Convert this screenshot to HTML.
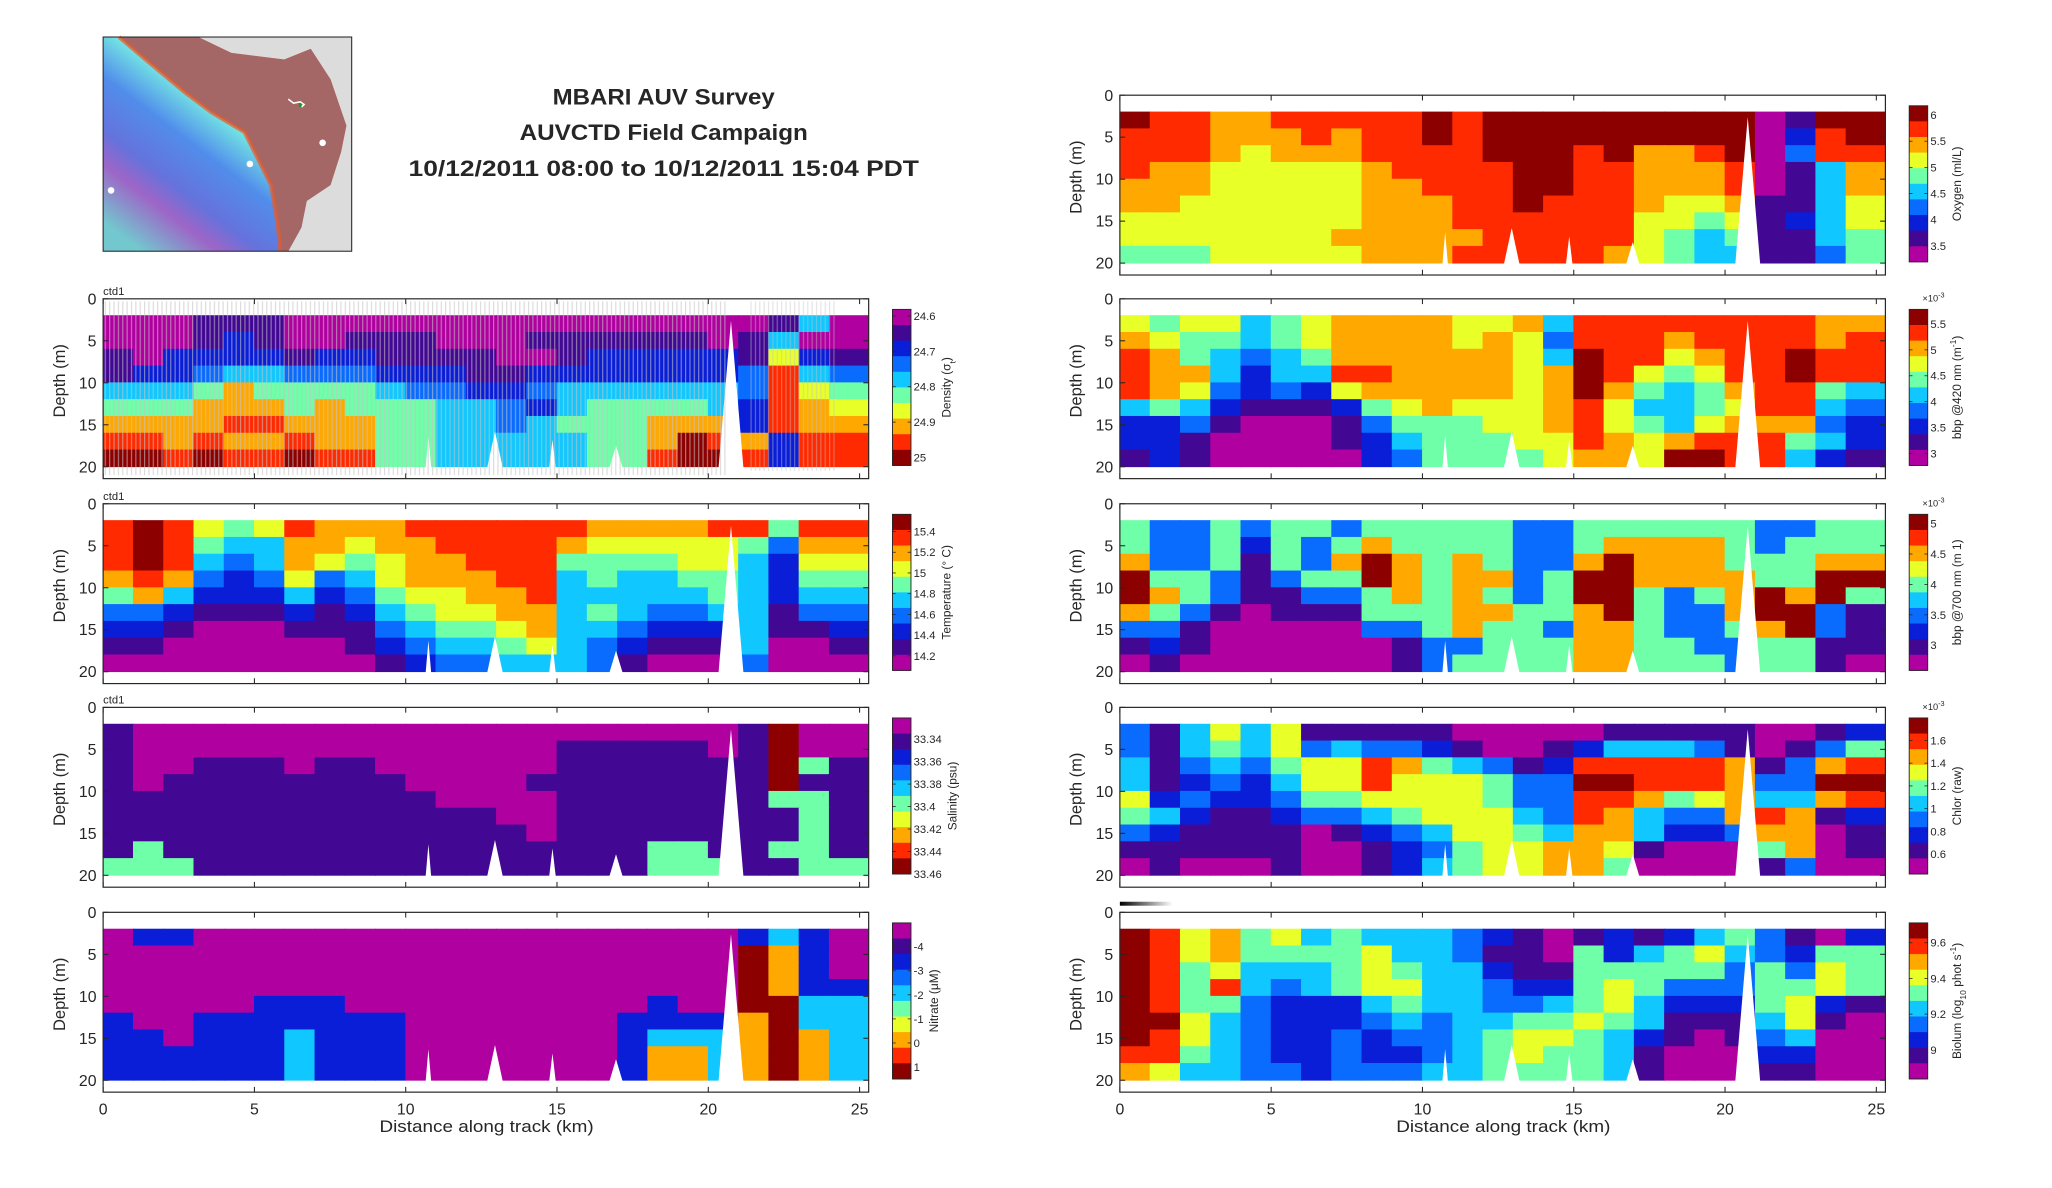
<!DOCTYPE html>
<html>
<head>
<meta charset="utf-8">
<style>
  html,body{margin:0;padding:0;background:#fff;}
  svg{display:block;}
  text{font-family:"Liberation Sans",sans-serif;fill:#262626;}
</style>
</head>
<body>
<svg id="fig" xmlns="http://www.w3.org/2000/svg" width="2052" height="1188" viewBox="0 0 1552 898.5" preserveAspectRatio="none">
  <defs>
    <pattern id="trackLines" width="3.3" height="10" patternUnits="userSpaceOnUse">
      <rect x="0" y="0" width="0.9" height="10" fill="#c4c4c4"/>
    </pattern>
    <linearGradient id="mapRainbow" x1="0.85" y1="0.1" x2="0.1" y2="0.95">
      <stop offset="0" stop-color="#d83030"/>
      <stop offset="0.12" stop-color="#ff7a30"/>
      <stop offset="0.25" stop-color="#f4ec50"/>
      <stop offset="0.4" stop-color="#60e0e0"/>
      <stop offset="0.55" stop-color="#3a7ee8"/>
      <stop offset="0.72" stop-color="#5060d8"/>
      <stop offset="0.82" stop-color="#9050c0"/>
      <stop offset="1" stop-color="#60c0c8"/>
    </linearGradient>
    <linearGradient id="bioBar" x1="0" y1="0" x2="1" y2="0">
      <stop offset="0" stop-color="#000"/>
      <stop offset="1" stop-color="#fff"/>
    </linearGradient>
  </defs>

  <!-- map inset -->
  <g>
    <rect x="78" y="28" width="188" height="162" fill="url(#mapRainbow)"/>
    <rect x="78" y="28" width="188" height="162" fill="#ffffff" opacity="0.12"/>
    <polygon fill="#dcdcdc" points="150,28 266,28 266,190 218,190 228,172 232,152 250,140 258,115 262,95 250,60 235,37 215,45 175,40"/>
    <polygon fill="#a56666" points="90,28 150,28 175,40 215,45 235,37 250,60 262,95 258,115 250,140 232,152 228,172 218,190 212,190 210,170 205,140 195,120 185,100 160,85 140,70 110,45"/>
    <polyline fill="none" stroke="#e85a2a" stroke-width="3" opacity="0.7" points="90,28 110,45 140,70 160,85 185,100 195,120 205,140 210,170 212,190"/>
    <circle cx="244" cy="108" r="2.5" fill="#fff"/>
    <circle cx="189" cy="124" r="2.5" fill="#fff"/>
    <circle cx="84" cy="144" r="2.5" fill="#fff"/>
    <path d="M218,75 l4,3 l5,-1 l3,2 l-2,2" stroke="#fff" stroke-width="1.2" fill="none"/>
    <rect x="226" y="78" width="2" height="3" fill="#1a9a1a"/>
    <rect x="78" y="28" width="188" height="162" fill="none" stroke="#262626" stroke-width="0.8"/>
  </g>

  <!-- title -->
  <g>
    <text x="502" y="79" text-anchor="middle" font-weight="bold" font-size="16.5" textLength="168" lengthAdjust="spacingAndGlyphs">MBARI AUV Survey</text>
    <text x="502" y="106" text-anchor="middle" font-weight="bold" font-size="16.5" textLength="218" lengthAdjust="spacingAndGlyphs">AUVCTD Field Campaign</text>
    <text x="502" y="133" text-anchor="middle" font-weight="bold" font-size="16.5" textLength="386" lengthAdjust="spacingAndGlyphs">10/12/2011 08:00 to 10/12/2011 15:04 PDT</text>
  </g>

  <g id="panels"></g>
</svg>

<script>
// ---------- shared data (categories) ----------
const distanceKm = [0,1,2,3,4,5,6,7,8,9,10,11,12,13,14,15,16,17,18,19,20,21,22,23,24];
const depthRowsM = [2,4,6,8,10,12,14,16,18];
const depthTicks = [0,5,10,15,20];
const distTicks = [0,5,10,15,20,25];
const palette = ['#b000a0','#420894','#0a1ed8','#0a6cff','#10c8ff','#6effa8','#e8ff28','#ffa800','#ff2a00','#8c0000'];

// no-data spikes (bathymetry gaps): km and the shallowest depth reached
const gapKm = [10.75, 12.95, 14.85, 16.95, 20.75];
const gapTopDepth = [16.3, 15.8, 16.8, 17.5, 2.6];
const gapHalfWidthKm = [0.1, 0.28, 0.12, 0.25, 0.42];

// ---------- panel values (colour level 0..9 per km column, per 2 m depth row) ----------
const densityLevels = [
"0001110000000000000000140",
"0001210011100011111101400",
"1022221221111001222221621",
"1223443332221122222223843",
"4445755554332234444443865",
"5557775755544324555542876",
"7777887775544345557772877",
"8878778775544444557987288",
"9989889885544444558998288"];
const temperatureLevels = [
"8986568777888888777788588",
"8985447767788887666665377",
"8984347656778885555664266",
"7873236346777884544554255",
"5742224235667784444454244",
"3321112124566774543344133",
"2210001113455674432224112",
"1100000012344564321114001",
"0000000001233444310003000"];
const salinityLevels = [
"1000000000000000000001900",
"1000000000000001111101900",
"1001110110000001111111951",
"1011111111000011111111911",
"1111111111100001111111551",
"1111111111111001111111151",
"1111111111111101111111151",
"1511111111111111115511551",
"5551111111111111115551155"];
const nitrateLevels = [
"0220000000000000000002420",
"0000000000000000000009720",
"0000000000000000000009720",
"0000000000000000000009722",
"0000022200000000002009944",
"2002222222000000022227944",
"2202224222000000024447974",
"2222224222000000027747974",
"2222224222000000027747974"];
const oxygenLevels = [
"9887788888989999999990199",
"8887778788989999999990289",
"8887677788889998977890388",
"8776666678888998877780147",
"7776666677888998877780147",
"7766666677788988876671146",
"6666666677788888866561246",
"6666666777778888865451145",
"5556666677788888765441135"];
const bbp420Levels = [
"6566456777766748888888877",
"7655456777767638887888878",
"8754345777777649886788988",
"8774244887777679865688988",
"8763232677777679754578854",
"4542111256766678644568843",
"2231000135556678654677732",
"2210000124555668767888542",
"1210000023555567769988421"];
const bbp700Levels = [
"5335355355555335555553355",
"5335253575555335777753555",
"7335153797575337977755577",
"9553135597577359977775599",
"9753113357575359953579795",
"7531011155577557953379931",
"3310000033575537753357931",
"1210000001335557755335511",
"0100000001355557755535510"];
const chlorLevels = [
"3146461111100000111110012",
"3145463433210012444310135",
"4134356687543128888871378",
"4123246686665339988873399",
"6232235566665338875674478",
"5421123345666438743378712",
"3211110123466547742237701",
"1111110012356677610005701",
"0100010012456677500001300"];
const biolumLevels = [
"9867564544432101212453102",
"9867555564431105245643255",
"9856444565442115555535365",
"9858434566443225653335565",
"9855322245443345642225621",
"9964322234344556541114610",
"9864322323345665421013400",
"8854322322345655410002200",
"7644332333445555410001100"];

// ---------- colourbar tick labels ----------
const densityTicks = ["24.6","24.7","24.8","24.9","25"];
const temperatureTicks = ["15.4","15.2","15","14.8","14.6","14.4","14.2"];
const salinityTicks = ["33.34","33.36","33.38","33.4","33.42","33.44","33.46"];
const nitrateTicks = ["-4","-3","-2","-1","0","1"];
const oxygenTicks = ["6","5.5","5","4.5","4","3.5"];
const bbp420Ticks = ["5.5","5","4.5","4","3.5","3"];
const bbp700Ticks = ["5","4.5","4","3.5","3"];
const chlorTicks = ["1.6","1.4","1.2","1","0.8","0.6"];
const biolumTicks = ["9.6","9.4","9.2","9"];

// ---------- layout (geometry only) ----------
const NS = "http://www.w3.org/2000/svg";
const AX_W = 579, KM_MAX = 25.3, PX_PER_M = 6.35, AX_H = 136;
const panels = [
 {name:"density", x0:78, top:226, levels:densityLevels, ticks:densityTicks, t0:13, t1:120, redTop:false, sigma:true, ctd:true, tracks:true, xlabels:false},
 {name:"temperature", x0:78, top:381, levels:temperatureLevels, ticks:temperatureTicks, t0:21, t1:115, redTop:true, label:"Temperature (° C)", ctd:true, xlabels:false},
 {name:"salinity", x0:78, top:535, levels:salinityLevels, ticks:salinityTicks, t0:24, t1:126, redTop:false, label:"Salinity (psu)", ctd:true, xlabels:false},
 {name:"nitrate", x0:78, top:690, levels:nitrateLevels, ticks:nitrateTicks, t0:26, t1:117, redTop:false, label:"Nitrate (μM)", xlabels:true},
 {name:"oxygen", x0:847, top:72, levels:oxygenLevels, ticks:oxygenTicks, t0:15, t1:114, redTop:true, label:"Oxygen (ml/L)", xlabels:false},
 {name:"bbp420", x0:847, top:226, levels:bbp420Levels, ticks:bbp420Ticks, t0:19, t1:117, redTop:true, label:"bbp @420 nm (m", sup:"-1", tail:")", exp:true, xlabels:false},
 {name:"bbp700", x0:847, top:381, levels:bbp700Levels, ticks:bbp700Ticks, t0:15, t1:107, redTop:true, label:"bbp @700 nm (m 1)", exp:true, xlabels:false},
 {name:"chlor", x0:847, top:535, levels:chlorLevels, ticks:chlorTicks, t0:25, t1:111, redTop:true, label:"Chlor (raw)", exp:true, xlabels:false},
 {name:"biolum", x0:847, top:690, levels:biolumLevels, ticks:biolumTicks, t0:23, t1:104, redTop:true, bio:true, xlabels:true}
];

function mk(tag, attrs, parent){
  const e = document.createElementNS(NS, tag);
  for (const k in attrs) e.setAttribute(k, attrs[k]);
  if (parent) parent.appendChild(e);
  return e;
}

const root = document.getElementById("panels");

panels.forEach(function(p, pi){
  const xs = function(km){ return p.x0 + km * AX_W / KM_MAX; };
  const ys = function(d){ return p.top + d * PX_PER_M; };
  const g = mk("g", {}, root);
  
  

  const field = mk("g", {}, g);
  
  

  p.levels.forEach(function(row, r){
    const d0 = depthRowsM[r];
    for (let c = 0; c < distanceKm.length; c++){
      const ch = row.charAt(c);
      const lvl = ch === "" ? 0 : parseInt(ch, 10);
      const k0 = distanceKm[c];
      const k1 = (c === distanceKm.length - 1) ? KM_MAX : distanceKm[c+1];
      const cell = mk("rect", {x:xs(k0)-0.3, y:ys(d0)-0.3, width:xs(k1)-xs(k0)+0.6, height:ys(d0+2)-ys(d0)+0.6, fill:palette[lvl]}, field);
      
      
    }
  });

  // gaps (no data)
  gapKm.forEach(function(k, i){
    const tri = mk("polygon", {points:
      xs(k - gapHalfWidthKm[i]) + "," + ys(20.5) + " " + xs(k) + "," + ys(gapTopDepth[i]) + " " + xs(k + gapHalfWidthKm[i]) + "," + ys(20.5),
      fill:"#ffffff"}, g);
    
    
  });

  if (p.tracks){
    const tr1 = mk("rect", {x:xs(0), y:ys(0.3), width:xs(20.6)-xs(0), height:ys(21)-ys(0.3), fill:"url(#trackLines)", opacity:"0.6"}, g);
    
    
    const tr2 = mk("rect", {x:xs(21.3), y:ys(0.3), width:xs(24.2)-xs(21.3), height:ys(20.5)-ys(0.3), fill:"url(#trackLines)", opacity:"0.45"}, g);
    
    
  }

  // axes box
  const box = mk("rect", {x:p.x0, y:p.top, width:AX_W, height:AX_H, fill:"none", stroke:"#262626", "stroke-width":"0.9"}, g);
  
  

  distTicks.forEach(function(t){
    const x = xs(t);
    mk("line", {x1:x, y1:p.top, x2:x, y2:p.top+4, stroke:"#262626", "stroke-width":"0.8"}, g);
    mk("line", {x1:x, y1:p.top+AX_H, x2:x, y2:p.top+AX_H-4, stroke:"#262626", "stroke-width":"0.8"}, g);
    if (p.xlabels){
      const tl = mk("text", {x:x, y:p.top+AX_H+17, "text-anchor":"middle", "font-size":"12"}, g);
      tl.textContent = String(t);
      
      
    }
  });
  if (p.xlabels){
    const xl = mk("text", {x:p.x0+290, y:p.top+AX_H+30, "text-anchor":"middle", "font-size":"12.5", textLength:"162", lengthAdjust:"spacingAndGlyphs"}, g);
    xl.textContent = "Distance along track (km)";
    
    
  }

  depthTicks.forEach(function(t){
    const y = ys(t);
    mk("line", {x1:p.x0, y1:y, x2:p.x0+4, y2:y, stroke:"#262626", "stroke-width":"0.8"}, g);
    mk("line", {x1:p.x0+AX_W, y1:y, x2:p.x0+AX_W-4, y2:y, stroke:"#262626", "stroke-width":"0.8"}, g);
    const tl = mk("text", {x:p.x0-5, y:y+4.2, "text-anchor":"end", "font-size":"12"}, g);
    tl.textContent = String(t);
    
    
  });
  const yl = mk("text", {x:0, y:0, "text-anchor":"middle", "font-size":"12.5", transform:"translate("+(p.x0-29)+","+(p.top+62)+") rotate(-90)"}, g);
  yl.textContent = "Depth (m)";
  
  

  if (p.ctd){
    const ct = mk("text", {x:p.x0, y:p.top-3, "font-size":"8.5"}, g);
    ct.textContent = "ctd1";
    
    
  }
  if (p.bio){
    const bb = mk("rect", {x:p.x0, y:p.top-8, width:40, height:3, fill:"url(#bioBar)"}, g);
    
    
  }

  // colourbar
  const cbx = p.x0 + 597, cbTop = p.top + 8, cbBot = p.top + 126;
  const cb = mk("g", {}, g);
  
  
  const n = palette.length;
  for (let i = 0; i < n; i++){
    const lvl = p.redTop ? (n - 1 - i) : i;
    const h = (cbBot - cbTop) / n;
    mk("rect", {x:cbx, y:cbTop + i*h, width:14, height:h+0.4, fill:palette[lvl]}, cb);
  }
  mk("rect", {x:cbx, y:cbTop, width:14, height:cbBot-cbTop, fill:"none", stroke:"#262626", "stroke-width":"0.7"}, cb);
  let maxLen = 0;
  p.ticks.forEach(function(lbl, i){
    maxLen = Math.max(maxLen, lbl.length);
    const y = p.top + p.t0 + (p.t1 - p.t0) * i / (p.ticks.length - 1);
    mk("line", {x1:cbx, y1:y, x2:cbx+2.5, y2:y, stroke:"#262626", "stroke-width":"0.6"}, cb);
    mk("line", {x1:cbx+14, y1:y, x2:cbx+11.5, y2:y, stroke:"#262626", "stroke-width":"0.6"}, cb);
    const t = mk("text", {x:cbx+16, y:y+3, "font-size":"8.5"}, cb);
    t.textContent = lbl;
    
    
  });
  if (p.exp){
    const ex = mk("text", {x:cbx+10, y:cbTop-6, "font-size":"7"}, cb);
    ex.textContent = "×10";
    const es = mk("tspan", {"baseline-shift":"super", "font-size":"5.5"}, ex);
    es.textContent = "-3";
    
    
  }
  const labX = cbx + 16 + maxLen * 4.7 + 9;
  const lab = mk("text", {x:0, y:0, "text-anchor":"middle", "font-size":"9", transform:"translate("+labX+","+((cbTop+cbBot)/2)+") rotate(-90)"}, cb);
  if (p.sigma){
    lab.appendChild(document.createTextNode("Density (σ"));
    const s = mk("tspan", {"baseline-shift":"sub", "font-size":"6.5"}, lab); s.textContent = "t";
    const r2 = mk("tspan", {}, lab); r2.textContent = ")";
  } else if (p.bio){
    lab.appendChild(document.createTextNode("Biolum (log"));
    const s = mk("tspan", {"baseline-shift":"sub", "font-size":"6.5"}, lab); s.textContent = "10";
    const m = mk("tspan", {}, lab); m.textContent = " phot s";
    const sp = mk("tspan", {"baseline-shift":"super", "font-size":"6.5"}, lab); sp.textContent = "-1";
    const e2 = mk("tspan", {}, lab); e2.textContent = ")";
  } else if (p.sup){
    lab.appendChild(document.createTextNode(p.label));
    const sp = mk("tspan", {"baseline-shift":"super", "font-size":"6.5"}, lab); sp.textContent = p.sup;
    const e2 = mk("tspan", {}, lab); e2.textContent = p.tail;
  } else {
    lab.textContent = p.label;
  }
  
  
});
</script>
</body>
</html>
